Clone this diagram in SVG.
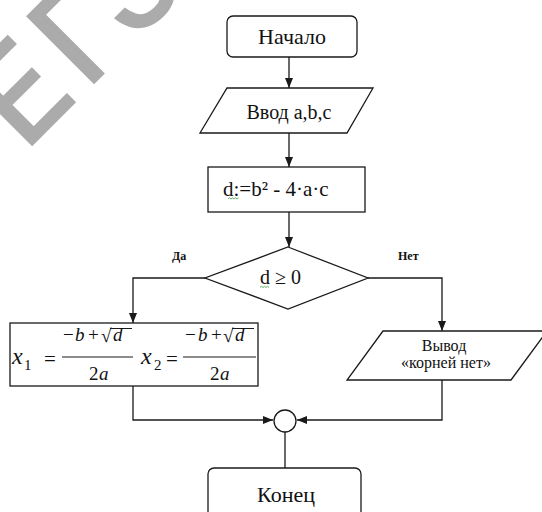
<svg xmlns="http://www.w3.org/2000/svg" width="542" height="512" viewBox="0 0 542 512">
  <defs>
    <marker id="arrow" markerUnits="userSpaceOnUse" markerWidth="10" markerHeight="8" refX="10" refY="4" orient="auto">
      <path d="M0,0 L10,4 L0,8 z" fill="#1a1a1a"/>
    </marker>
    <style>
      .shape { fill: #ffffff; stroke: #1a1a1a; stroke-width: 1.3; }
      .line { fill: none; stroke: #1a1a1a; stroke-width: 1.3; }
      .arrow { marker-end: url(#arrow); }
      .t { font-family: "Liberation Serif", "Times New Roman", serif; fill: #111111; }
      .c { text-anchor: middle; }
      .lbl { font-family: "Liberation Serif", "Times New Roman", serif; font-weight: bold; font-size: 12px; fill: #111111; }
      .m { font-family: "Liberation Serif", "Times New Roman", serif; fill: #111111; }
      .i { font-style: italic; }
      .squig { fill: none; stroke: #3a9a3a; stroke-width: 0.8; }
      .wm { font-family: Roboto, Inter, "Liberation Sans", sans-serif; font-weight: 400; font-size: 131px; fill: #ababab; stroke: #ababab; stroke-width: 3; stroke-linejoin: miter; }
    </style>
  </defs>

  <rect width="542" height="512" fill="#ffffff"/>

  <!-- background watermark -->
  <text class="wm" transform="rotate(-45)" x="-90 -3 60" y="124.6">ЕГЭ</text>

  <!-- connectors -->
  <g id="connectors">
    <line class="line arrow" x1="289" y1="57" x2="289" y2="88"/>
    <line class="line arrow" x1="289" y1="133" x2="289" y2="167"/>
    <line class="line arrow" x1="289" y1="212" x2="289" y2="247"/>
    <polyline class="line arrow" points="205,278 133,278 133,323"/>
    <polyline class="line arrow" points="368,278 442,278 442,331"/>
    <polyline class="line arrow" points="133,386 133,420 273,420"/>
    <polyline class="line arrow" points="442,380 442,420 297,420"/>
    <line class="line" x1="285" y1="432" x2="285" y2="468"/>
    <text class="lbl" x="172" y="260">Да</text>
    <text class="lbl" x="398" y="260">Нет</text>
  </g>

  <g id="start">
    <rect class="shape" x="227" y="16" width="130" height="41" rx="6"/>
    <text class="t c" x="292" y="44" font-size="22">Начало</text>
  </g>

  <g id="input">
    <polygon class="shape" points="227,88 373,88 347,133 200,133"/>
    <text class="t c" x="289" y="119" font-size="20">Ввод a,b,c</text>
  </g>

  <g id="calc">
    <rect class="shape" x="208" y="167" width="157" height="45"/>
    <text class="t" x="223" y="196" font-size="21">d:=b² - 4·a·c</text>
    <path class="squig" d="M228,199 l1.5,-1.2 l1.5,1.2 l1.5,-1.2 l1.5,1.2 l1.5,-1.2 l1.5,1.2 l1.5,-1.2"/>
  </g>

  <g id="check">
    <polygon class="shape" points="288,247 368,278 288,309 205,278"/>
    <text class="t" x="260" y="284" font-size="20">d ≥ 0</text>
    <path class="squig" d="M260,287.5 l1.5,-1.2 l1.5,1.2 l1.5,-1.2 l1.5,1.2 l1.5,-1.2 l1.5,1.2"/>
  </g>

  <g id="roots">
    <rect class="shape" x="10" y="323" width="248" height="63"/>
    <!-- x1 -->
    <text class="m i" x="12" y="364" font-size="24">x</text>
    <text class="m" x="24" y="370" font-size="15">1</text>
    <text class="m" x="44" y="366" font-size="21">=</text>
    <text class="m" x="63" y="341" font-size="19">−</text>
    <text class="m i" x="75" y="341" font-size="19">b</text>
    <text class="m" x="88" y="341" font-size="19">+</text>
    <text class="m" x="101" y="342" font-size="19">√</text>
    <line class="line" x1="110" y1="328.5" x2="132" y2="328.5" style="stroke-width:1"/>
    <text class="m i" x="113" y="341" font-size="19">d</text>
    <line class="line" x1="62" y1="357" x2="133" y2="357" style="stroke-width:1"/>
    <text class="m" x="89" y="380" font-size="19">2</text>
    <text class="m i" x="99" y="380" font-size="19">a</text>
    <!-- x2 -->
    <text class="m i" x="141" y="364" font-size="24">x</text>
    <text class="m" x="154" y="370" font-size="15">2</text>
    <text class="m" x="166" y="366" font-size="21">=</text>
    <text class="m" x="185" y="341" font-size="19">−</text>
    <text class="m i" x="198" y="341" font-size="19">b</text>
    <text class="m" x="211" y="341" font-size="19">+</text>
    <text class="m" x="223" y="342" font-size="19">√</text>
    <line class="line" x1="232" y1="328.5" x2="254" y2="328.5" style="stroke-width:1"/>
    <text class="m i" x="235" y="341" font-size="19">d</text>
    <line class="line" x1="183" y1="357" x2="256" y2="357" style="stroke-width:1"/>
    <text class="m" x="210" y="380" font-size="19">2</text>
    <text class="m i" x="220" y="380" font-size="19">a</text>
  </g>

  <g id="output">
    <polygon class="shape" points="383,331 547,331 511,380 347,380"/>
    <text class="t c" x="444" y="351" font-size="16">Вывод</text>
    <text class="t c" x="446" y="368" font-size="16">«корней нет»</text>
  </g>

  <g id="join">
    <circle class="shape" cx="285" cy="421" r="11"/>
  </g>

  <g id="end">
    <rect class="shape" x="208" y="468" width="153" height="70" rx="6"/>
    <text class="t c" x="286" y="502" font-size="22">Конец</text>
  </g>
</svg>
